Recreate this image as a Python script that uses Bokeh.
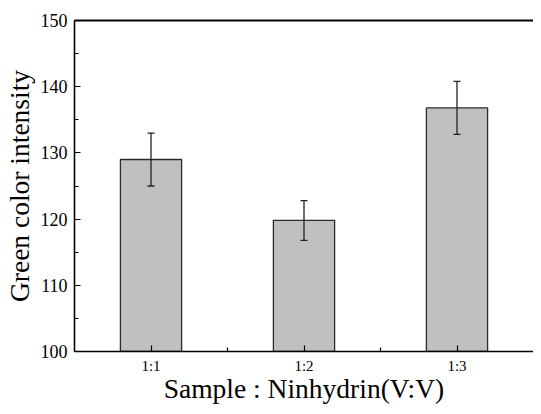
from bokeh.plotting import figure
from bokeh.models import Range1d, FixedTicker, Whisker, TeeHead, ColumnDataSource, LinearAxis
from bokeh.embed import file_html
from bokeh.resources import INLINE

categories = ["1:1", "1:2", "1:3"]
intensity = [129.0, 119.8, 136.8]
error = [4.0, 3.0, 4.0]
y_ticks = [100, 110, 120, 130, 140, 150]

xs = [i + 1 for i in range(len(categories))]
src = ColumnDataSource(dict(
    x=xs, top=intensity,
    upper=[v + e for v, e in zip(intensity, error)],
    lower=[v - e for v, e in zip(intensity, error)],
))

FONT = "Liberation Serif"

p = figure(width=533, height=406, output_backend="svg", toolbar_location=None,
           x_range=Range1d(0.5, 3.5), y_range=Range1d(100, 150),
           min_border_left=74, min_border_right=0, min_border_top=20, min_border_bottom=40)
p.background_fill_color = "white"
p.border_fill_color = "white"
p.outline_line_color = None
p.xgrid.visible = False
p.ygrid.visible = False

p.vbar(x="x", top="top", bottom=100, width=0.4, source=src,
       fill_color="#c0c0c0", line_color="#2a2a2a", line_width=1.3)

w = Whisker(base="x", upper="upper", lower="lower", source=src, level="overlay",
            line_color="#222222", line_width=1.3,
            upper_head=TeeHead(size=7, line_color="#222222", line_width=1.3),
            lower_head=TeeHead(size=7, line_color="#222222", line_width=1.3))
p.add_layout(w)

p.xaxis.ticker = FixedTicker(ticks=xs, minor_ticks=[1.5, 2.5])
p.xaxis.major_label_overrides = {x: c for x, c in zip(xs, categories)}
p.yaxis.ticker = FixedTicker(ticks=y_ticks, minor_ticks=[105, 115, 125, 135, 145])

for ax in (p.xaxis[0], p.yaxis[0]):
    ax.axis_line_color = "black"
    ax.axis_line_width = 1.6
    ax.major_tick_in = 6
    ax.major_tick_out = 0
    ax.minor_tick_in = 4
    ax.minor_tick_out = 0
    ax.major_tick_line_color = "black"
    ax.minor_tick_line_color = "black"
    ax.major_tick_line_width = 1.2
    ax.minor_tick_line_width = 1.2
    ax.major_label_text_font = FONT
    ax.major_label_text_color = "black"
    ax.axis_label_text_font = FONT
    ax.axis_label_text_font_style = "normal"
    ax.axis_label_text_color = "black"
    ax.axis_label_text_font_size = "27.5px"

p.xaxis.major_label_text_font_size = "15px"
p.yaxis.major_label_text_font_size = "18px"
p.xaxis.major_label_standoff = 6
p.yaxis.major_label_standoff = 7
p.xaxis.axis_label = "Sample : Ninhydrin(V:V)"
p.yaxis.axis_label = "Green color intensity"
p.xaxis.axis_label_standoff = -4
p.yaxis.axis_label_standoff = 3

top_ax = LinearAxis(ticker=FixedTicker(ticks=[]), axis_line_color="black", axis_line_width=1.8,
                    major_tick_line_color=None, minor_tick_line_color=None,
                    major_label_standoff=0)
p.add_layout(top_ax, "above")
right_ax = LinearAxis(ticker=FixedTicker(ticks=[]), axis_line_color="#c8c8c8", axis_line_width=1.0,
                      major_tick_line_color=None, minor_tick_line_color=None,
                      major_label_standoff=0)
p.add_layout(right_ax, "right")

open("out.html", "w").write(file_html(p, INLINE))
